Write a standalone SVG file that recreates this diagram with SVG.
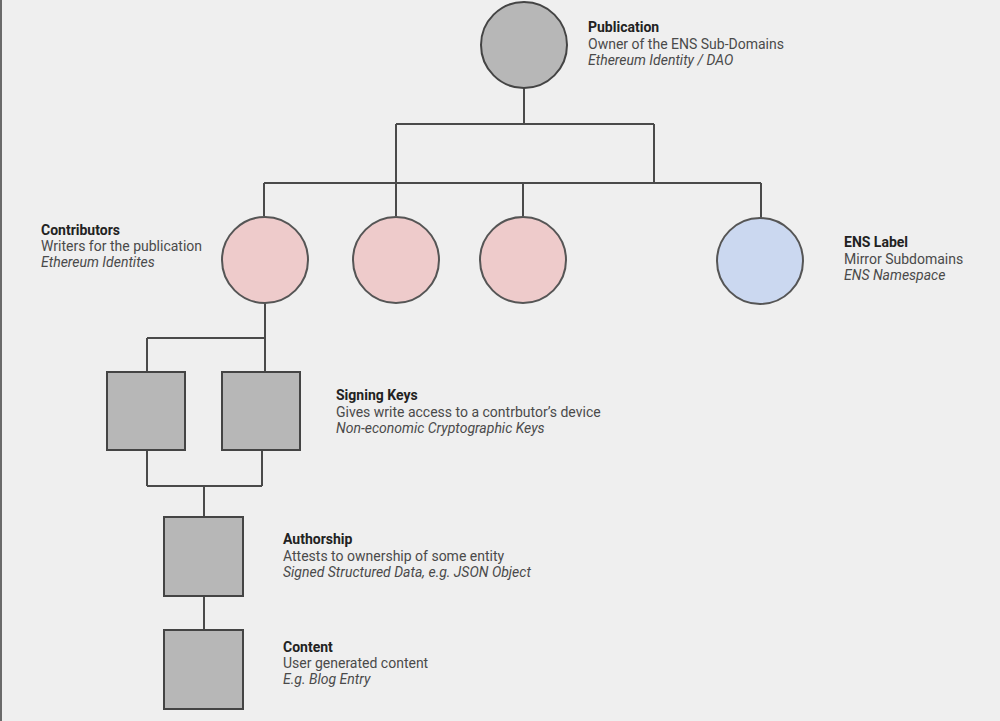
<svg xmlns="http://www.w3.org/2000/svg" width="1000" height="721" viewBox="0 0 1000 721">
<style>
.bg{fill:#efefef}
.line{fill:none;stroke:#4a4a4a;stroke-width:2}
.gray{fill:#b7b7b7;stroke:#444;stroke-width:2}
.pink{fill:#eecbcb;stroke:#555;stroke-width:2}
.blue{fill:#cbd8f0;stroke:#555;stroke-width:2}
text{font-family:Roboto,"Liberation Sans",sans-serif;font-size:14px;fill:#4a4a4a}
.t{font-weight:bold;fill:#222}
.i{font-style:italic}
</style>
<rect class="bg" x="0" y="0" width="1000" height="721"/>
<rect x="0" y="0" width="2" height="721" fill="#6a6a6a"/>
<g id="connectors">
<path class="line" d="M524 88 V124 M396 124 H654 M396 124 V183 M654 124 V183 M264 183 H761 M264 183 V216 M396 183 V216 M523 183 V216 M761 183 V218"/>
<path class="line" d="M265 303 V338 M147 338 H265 M147 338 V371 M265 338 V371"/>
<path class="line" d="M147 450 V486 M262 450 V486 M147 486 H262 M204 486 V517"/>
<path class="line" d="M204 596 V630"/>
</g>
<g id="publication">
<circle class="gray" cx="524" cy="45" r="43"/>
<text x="588" y="32" class="t">Publication</text>
<text x="588" y="49">Owner of the ENS Sub-Domains</text>
<text x="588" y="65" class="i">Ethereum Identity / DAO</text>
</g>
<g id="contributor1">
<circle class="pink" cx="265" cy="260" r="43"/>
<text x="41" y="235" class="t">Contributors</text>
<text x="41" y="251">Writers for the publication</text>
<text x="41" y="267" class="i">Ethereum Identites</text>
</g>
<g id="contributor2">
<circle class="pink" cx="396" cy="260" r="43"/>
</g>
<g id="contributor3">
<circle class="pink" cx="523" cy="260" r="43"/>
</g>
<g id="ens-label">
<circle class="blue" cx="760" cy="261" r="43"/>
<text x="844" y="247" class="t">ENS Label</text>
<text x="844" y="264">Mirror Subdomains</text>
<text x="844" y="280" class="i">ENS Namespace</text>
</g>
<g id="signing-key1">
<rect class="gray" x="107" y="372" width="78" height="78"/>
<text x="336" y="400" class="t">Signing Keys</text>
<text x="336" y="417">Gives write access to a contrbutor’s device</text>
<text x="336" y="433" class="i">Non-economic Cryptographic Keys</text>
</g>
<g id="signing-key2">
<rect class="gray" x="222" y="372" width="78" height="78"/>
</g>
<g id="authorship">
<rect class="gray" x="164" y="517" width="79" height="79"/>
<text x="283" y="544" class="t">Authorship</text>
<text x="283" y="561">Attests to ownership of some entity</text>
<text x="283" y="577" class="i">Signed Structured Data, e.g. JSON Object</text>
</g>
<g id="content">
<rect class="gray" x="164" y="630" width="79" height="79"/>
<text x="283" y="652" class="t">Content</text>
<text x="283" y="668">User generated content</text>
<text x="283" y="684" class="i">E.g. Blog Entry</text>
</g>
</svg>
